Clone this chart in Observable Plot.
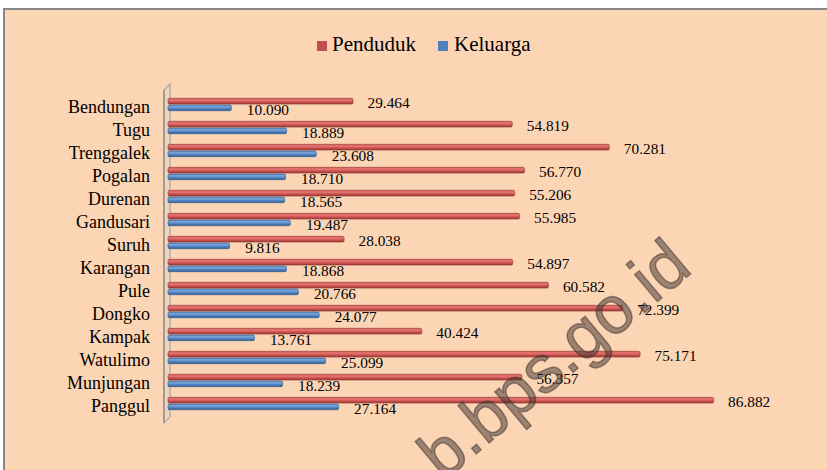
<!DOCTYPE html>
<html><head><meta charset="utf-8">
<script src="https://cdn.jsdelivr.net/npm/d3@7"></script>
<script src="https://cdn.jsdelivr.net/npm/@observablehq/plot@0.6"></script>
<style>
html,body{margin:0;padding:0;background:#fff;}
#wrap{position:relative;width:827px;height:470px;overflow:hidden;background:#fff;}
#frame{position:absolute;left:3px;top:8px;width:900px;height:600px;border:2px solid #878787;background:#FCD5B5;}
#chart{position:absolute;left:0;top:0;}
.lg{position:absolute;font-family:"Liberation Serif";font-size:21px;line-height:21px;color:#000;white-space:nowrap;}
.sw{position:absolute;width:10px;height:10px;}
</style></head><body>
<div id="wrap"><div id="frame"></div><div id="chart"></div><div id="legend"></div></div>
<script>
const categories = ["Bendungan","Tugu","Trenggalek","Pogalan","Durenan","Gandusari","Suruh","Karangan","Pule","Dongko","Kampak","Watulimo","Munjungan","Panggul"];
const penduduk = [29464,54819,70281,56770,55206,55985,28038,54897,60582,72399,40424,75171,56357,86882];
const keluarga = [10090,18889,23608,18710,18565,19487,9816,18868,20766,24077,13761,25099,18239,27164];
const seriesNames = ["Penduduk","Keluarga"];
const seriesColors = ["#C0504D","#4F81BD"];
const watermark = "b.bps.go.id";

const rows = categories.map((c,i)=>({cat:c, pend:penduduk[i], kel:keluarga[i]}));
const fmt = v => d3.format(",")(v).replace(/,/g,".");
const serif = "Liberation Serif";

const chart = Plot.plot({
  width:827, height:470,
  marginLeft:168, marginRight:31, marginTop:86.5, marginBottom:49.4,
  style:{background:"transparent", fontFamily:serif, color:"#000"},
  x:{domain:[0,100000], axis:null},
  y:{domain:categories, padding:0, axis:null, label:null},
  marks:[
    Plot.axisY({tickSize:0, tickPadding:18.5, fontSize:18, fill:"#000", dy:2.5, label:null, fontFamily:serif}),
    Plot.barX(rows,{x:"pend", y:"cat", fill:"url(#gR)", stroke:"#8f3936", strokeWidth:0.6, insetTop:8.6, insetBottom:8.6, dy:-3.3, rx:1.5}),
    Plot.barX(rows,{x:"kel", y:"cat", fill:"url(#gB)", stroke:"#2f5a8c", strokeWidth:0.6, insetTop:8.6, insetBottom:8.6, dy:3.3, rx:1.5}),
    Plot.text(rows,{x:"pend", y:"cat", text:d=>fmt(d.pend), textAnchor:"start", dx:14, dy:-1.8, fontSize:15.3, fill:"#000", fontFamily:serif}),
    Plot.text(rows,{x:"kel", y:"cat", text:d=>fmt(d.kel), textAnchor:"start", dx:15, dy:4.8, fontSize:15.3, fill:"#000", fontFamily:serif})
  ]
});
document.getElementById("chart").appendChild(chart);

const svg = d3.select(chart);
const defs = svg.insert("defs", ":first-child");
function grad(id, stops){
  const g = defs.append("linearGradient").attr("id", id).attr("x1",0).attr("y1",0).attr("x2",0).attr("y2",1);
  stops.forEach(([o,c])=>g.append("stop").attr("offset",o).attr("stop-color",c));
}
grad("gR", [[0,"#d7625f"],[0.35,"#e4736f"],[0.65,"#c9504d"],[1,"#9a3b38"]]);
grad("gB", [[0,"#5a8ac6"],[0.35,"#7ba5db"],[0.65,"#4f81bd"],[1,"#2f5f97"]]);

// 3D wall behind the bars, positioned from the scales
const x0 = chart.scale("x").apply(0);
const [yTop, yBot] = chart.scale("y").range;
const wall = d3.path();
wall.moveTo(x0-4, yBot+2.5); wall.lineTo(x0-4, yTop+3.5); wall.lineTo(x0+2, yTop-2.5);
wall.lineTo(x0+2, yBot-3.5); wall.closePath();
svg.insert("path", "defs + *").attr("d", wall.toString()).attr("fill","rgba(200,200,200,0.15)").attr("stroke","#a6a6a6").attr("stroke-width",1.2);
svg.insert("line", "defs + *").attr("x1",x0-4).attr("x2",x0-4).attr("y1",yTop+3.5).attr("y2",yBot+2.5).attr("stroke","#8c8c8c").attr("stroke-width",2);

// watermark
svg.append("text").attr("transform","translate(694,271) rotate(-40)")
  .attr("text-anchor","end").attr("font-family","Liberation Sans")
  .attr("font-size",67).attr("fill","rgba(60,50,45,0.5)").attr("stroke","rgba(60,50,45,0.5)")
  .attr("stroke-width",1.5).attr("paint-order","stroke").text(watermark);

// legend
const lg = document.getElementById("legend");
const lx = [[317,332],[438,454]];
seriesNames.forEach((n,i)=>{
  const s = document.createElement("div"); s.className="sw";
  s.style.left=lx[i][0]+"px"; s.style.top="41px"; s.style.background=seriesColors[i];
  const t = document.createElement("div"); t.className="lg";
  t.style.left=lx[i][1]+"px"; t.style.top="34px"; t.textContent=n;
  lg.appendChild(s); lg.appendChild(t);
});
</script>
</body></html>
